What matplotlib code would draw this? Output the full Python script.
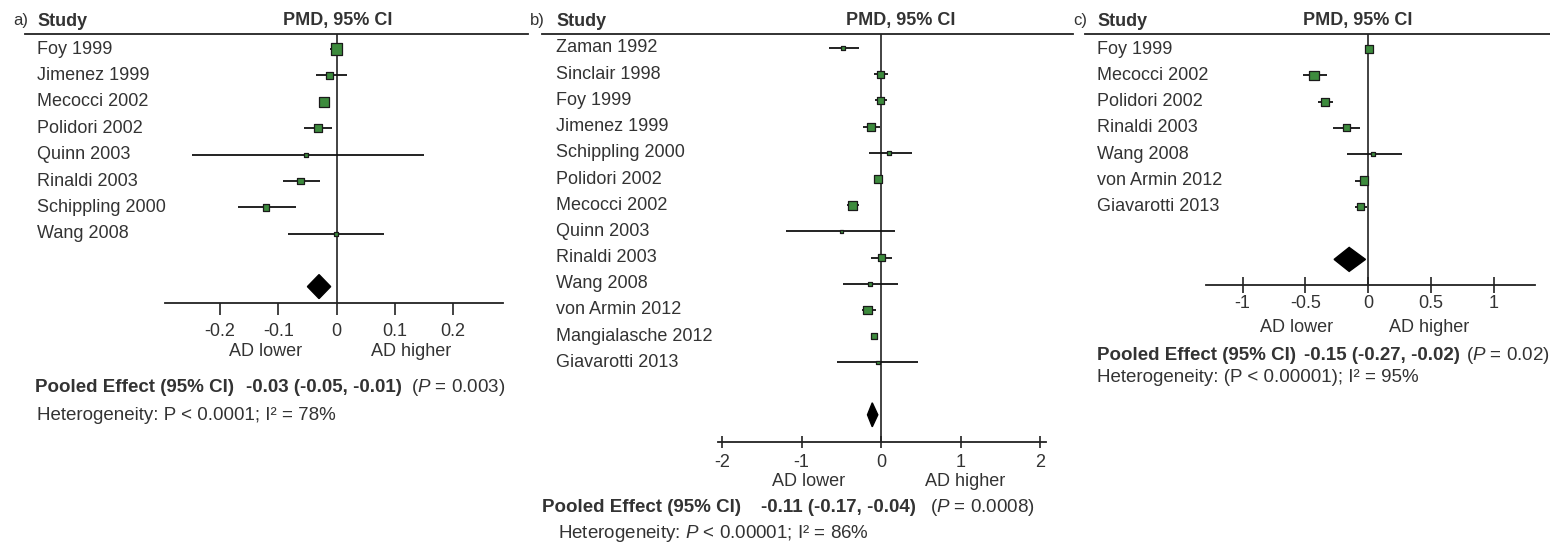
import matplotlib
matplotlib.use("Agg")
import matplotlib.pyplot as plt

plt.rcParams['font.family'] = ['Liberation Sans', 'DejaVu Sans']
plt.rcParams['axes.unicode_minus'] = False
plt.rcParams['mathtext.fontset'] = 'custom'
plt.rcParams['mathtext.rm'] = 'Liberation Sans'
plt.rcParams['mathtext.it'] = 'Liberation Sans:italic'

# ---- datos panel a ----
studies_a = ['Foy 1999', 'Jimenez 1999', 'Mecocci 2002', 'Polidori 2002', 'Quinn 2003',
             'Rinaldi 2003', 'Schippling 2000', 'Wang 2008']
pmd_a = [0.0, -0.012, -0.021, -0.031, -0.052, -0.062, -0.121, -0.001]
lo_a = [-0.012, -0.035, -0.029, -0.055, -0.249, -0.092, -0.170, -0.083]
hi_a = [0.012, 0.018, -0.013, -0.007, 0.150, -0.028, -0.070, 0.082]
peso_a = [10, 6, 9, 7, 3.5, 6, 5.5, 3]
pooled_a = [-0.03, -0.05, -0.01]
p_a = '0.003'
het_a = 'Heterogeneity: P < 0.0001; I² = 78%'

# ---- datos panel b ----
studies_b = ['Zaman 1992', 'Sinclair 1998', 'Foy 1999', 'Jimenez 1999', 'Schippling 2000',
             'Polidori 2002', 'Mecocci 2002', 'Quinn 2003', 'Rinaldi 2003', 'Wang 2008',
             'von Armin 2012', 'Mangialasche 2012', 'Giavarotti 2013']
pmd_b = [-0.48, -0.01, -0.01, -0.13, 0.10, -0.04, -0.36, -0.50, 0.01, -0.14, -0.17, -0.09, -0.04]
lo_b = [-0.65, -0.09, -0.08, -0.23, -0.15, -0.08, -0.43, -1.19, -0.12, -0.48, -0.24, -0.11, -0.55]
hi_b = [-0.28, 0.09, 0.07, -0.01, 0.39, 0.01, -0.28, 0.18, 0.14, 0.21, -0.06, -0.07, 0.47]
peso_b = [4, 6, 6, 7, 4, 7, 8, 3, 6, 3, 7, 5, 3]
pooled_b = [-0.11, -0.17, -0.04]
p_b = '0.0008'
het_b = 'Heterogeneity: $P$ < 0.00001; I² = 86%'

# ---- datos panel c ----
studies_c = ['Foy 1999', 'Mecocci 2002', 'Polidori 2002', 'Rinaldi 2003', 'Wang 2008',
             'von Armin 2012', 'Giavarotti 2013']
pmd_c = [0.01, -0.43, -0.34, -0.17, 0.04, -0.03, -0.06]
lo_c = [-0.02, -0.52, -0.40, -0.28, -0.17, -0.10, -0.10]
hi_c = [0.04, -0.33, -0.28, -0.06, 0.27, 0.01, -0.01]
peso_c = [7, 8, 7, 6, 4, 7, 6]
pooled_c = [-0.15, -0.27, -0.02]
p_c = '0.02'
het_c = 'Heterogeneity: (P < 0.00001); I² = 95%'

ticks_a = [-0.2, -0.1, 0, 0.1, 0.2]
ticklab_a = ['-0.2', '-0.1', '0', '0.1', '0.2']
ticks_b = [-2, -1, 0, 1, 2]
ticklab_b = ['-2', '-1', '0', '1', '2']
ticks_c = [-1, -0.5, 0, 0.5, 1]
ticklab_c = ['-1', '-0.5', '0', '0.5', '1']

W, H = 1550, 552
fig = plt.figure(figsize=(W / 100, H / 100), dpi=100)
renderer = fig.canvas.get_renderer()
GRIS = '#333333'
VERDE = '#3d8b3d'
FS = 13
FS_PIE = 13.5


def fx(px):
    return px / W


def fy(py):
    return 1 - py / H


def forest(letra, studies, pmd, lo, hi, peso, pooled, pval, het, ticks, ticklab, lay):
    top = 34
    ax = fig.add_axes([fx(lay['left']), fy(lay['axis_y']),
                       (lay['right'] - lay['left']) / W, (lay['axis_y'] - top) / H])
    ax.set_xlim((lay['left'] - lay['zero']) / lay['scale'], (lay['right'] - lay['zero']) / lay['scale'])
    ax.set_ylim((lay['axis_y'] - lay['row0']) / lay['rowh'], -(lay['row0'] - top) / lay['rowh'])
    ax.patch.set_alpha(0)
    for s in ['left', 'right']:
        ax.spines[s].set_visible(False)
    ax.spines['top'].set_color('#222222')
    ax.spines['top'].set_linewidth(1.3)
    ax.spines['bottom'].set_color('#222222')
    ax.spines['bottom'].set_linewidth(1.3)
    ax.spines['bottom'].set_bounds(lay['lo'], lay['hi'])
    ax.set_yticks([])
    ax.set_xticks(ticks)
    ax.set_xticklabels(ticklab)
    ax.tick_params(axis='x', direction=lay['tdir'], length=lay['tlen'], width=1.2,
                   pad=lay['pad'], labelsize=FS, labelcolor=GRIS, color='#222222')
    ax.axvline(0, color='#222222', lw=1.2, zorder=1)

    rows = list(range(len(studies)))
    ax.hlines(rows, lo, hi, color='#111111', lw=1.3, zorder=2)
    # tamaño del cuadrado segun el peso del estudio
    ax.scatter(pmd, rows, marker='s', s=[(1.15 * p / 1.39) ** 2 for p in peso], facecolor=VERDE,
               edgecolor='#1a1a1a', linewidths=0.9, zorder=3)
    drow = len(studies) + 1
    dh = 12 / lay['rowh']
    est, dlo, dhi = pooled
    ax.fill([dlo, est, dhi, est], [drow, drow - dh, drow, drow + dh], color='black', zorder=3)

    for i, name in enumerate(studies):
        ax.text((lay['lab_x'] - lay['left']) / (lay['right'] - lay['left']), i, name,
                transform=ax.get_yaxis_transform(), va='center', ha='left', fontsize=FS, color=GRIS)

    # encabezado
    fig.text(fx(lay['left'] - 12), fy(21), letra + ')', fontsize=FS - 1, color=GRIS, va='center', ha='left')
    fig.text(fx(lay['lab_x']), fy(21), 'Study', fontsize=FS, fontweight='bold', color=GRIS, va='center')
    fig.text(fx(lay['pmd_x']), fy(21), 'PMD, 95% CI', fontsize=FS, fontweight='bold', color=GRIS,
             va='center', ha='center')
    fig.text(fx(lay['adl'][0]), fy(lay['adl'][1]), 'AD lower', fontsize=FS, color=GRIS, ha='center', va='center')
    fig.text(fx(lay['adh'][0]), fy(lay['adh'][1]), 'AD higher', fontsize=FS, color=GRIS, ha='center', va='center')

    # efecto combinado, piezas una tras otra
    x, py = lay['pool']
    piezas = [('Pooled Effect (95% CI)', 'bold'),
              ('%.2f (%.2f, %.2f)' % (est, dlo, dhi), 'bold'),
              ('($P$ = %s)' % pval, 'normal')]
    for k, (txt, peso_f) in enumerate(piezas):
        t = fig.text(fx(x), fy(py), txt, fontsize=FS_PIE, fontweight=peso_f, color=GRIS, va='center')
        if k < 2:
            x = t.get_window_extent(renderer).x1 + lay['gaps'][k]
    fig.text(fx(lay['het'][0]), fy(lay['het'][1]), het, fontsize=FS_PIE, color=GRIS, va='center')
    return ax


lay_a = dict(left=25, right=528, zero=336.5, scale=582, row0=49, rowh=26.4, axis_y=303,
             lo=-0.295, hi=0.286, tdir='out', tlen=8.5, pad=6, lab_x=37, pmd_x=338,
             adl=(266, 352), adh=(411, 352), pool=(35, 387), gaps=(12, 9), het=(37, 415))
lay_b = dict(left=542, right=1073, zero=881, scale=79.5, row0=48, rowh=26.2, axis_y=442,
             lo=-2.05, hi=2.07, tdir='inout', tlen=9, pad=4, lab_x=556, pmd_x=901,
             adl=(809, 482), adh=(965, 482), pool=(542, 507), gaps=(20, 14), het=(558, 534))
lay_c = dict(left=1085, right=1550, zero=1368, scale=125.5, row0=49, rowh=26.3, axis_y=285,
             lo=-1.29, hi=1.33, tdir='inout', tlen=12, pad=1, lab_x=1097, pmd_x=1358,
             adl=(1297, 327), adh=(1429, 327), pool=(1097, 355), gaps=(8, 6), het=(1097, 378))

forest('a', studies_a, pmd_a, lo_a, hi_a, peso_a, pooled_a, p_a, het_a, ticks_a, ticklab_a, lay_a)
forest('b', studies_b, pmd_b, lo_b, hi_b, peso_b, pooled_b, p_b, het_b, ticks_b, ticklab_b, lay_b)
forest('c', studies_c, pmd_c, lo_c, hi_c, peso_c, pooled_c, p_c, het_c, ticks_c, ticklab_c, lay_c)

fig.savefig('out.png', dpi=100, facecolor='white')
